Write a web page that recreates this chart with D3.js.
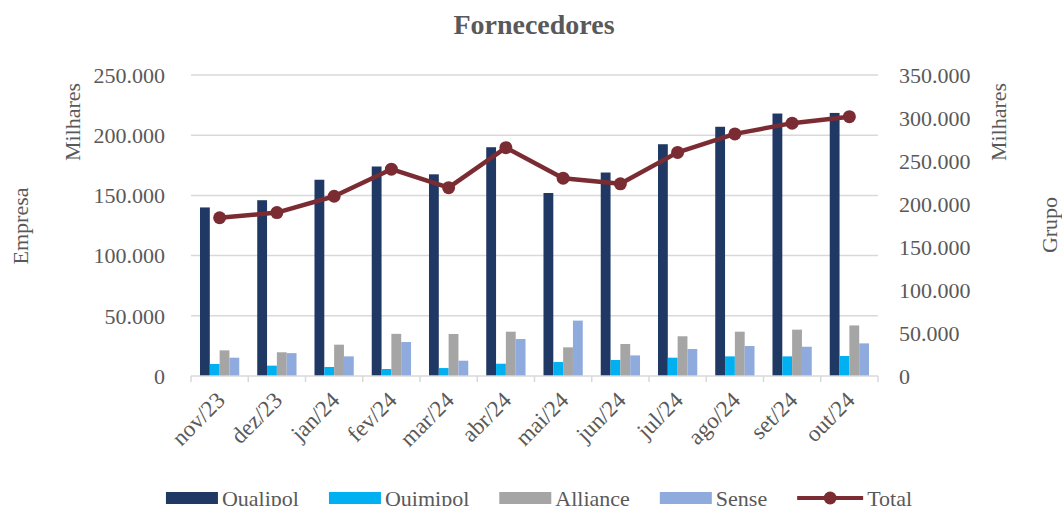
<!DOCTYPE html>
<html>
<head>
<meta charset="utf-8">
<script src="https://cdn.jsdelivr.net/npm/d3@7"></script>
<style>
    body { margin: 0; background: #fff; }
    svg text { font-family: "Liberation Serif", "DejaVu Serif", serif; fill: #595959; }
</style>
</head>
<body>
<svg id="chart" width="1062" height="506"></svg>
<script>
// Fornecedores - empresa (barras, eixo esquerdo) e grupo (linha, eixo direito)
const months = ["nov/23", "dez/23", "jan/24", "fev/24", "mar/24", "abr/24",
                "mai/24", "jun/24", "jul/24", "ago/24", "set/24", "out/24"];

const qualipol = [140000, 146000, 163000, 174000, 167500, 190000, 152000, 169000, 192500, 207000, 218000, 218500];
const quimipol = [10000, 8600, 7500, 5800, 6600, 10200, 11600, 13300, 15200, 16300, 16300, 16600];
const alliance = [21300, 19700, 26000, 35000, 34900, 36800, 23800, 26600, 33000, 36800, 38500, 42000];
const sense    = [15200, 19000, 16300, 28200, 12700, 30700, 46000, 17100, 22400, 24900, 24300, 27100];
const total    = [184000, 190000, 209000, 240500, 219000, 265500, 230000, 223500, 260000, 281500, 294000, 301500];

const leftTicks = [0, 50000, 100000, 150000, 200000, 250000];
const rightTicks = [0, 50000, 100000, 150000, 200000, 250000, 300000, 350000];

const barSeries = [
    { name: "Qualipol", values: qualipol, color: "#1F3864" },
    { name: "Quimipol", values: quimipol, color: "#00B0F0" },
    { name: "Alliance", values: alliance, color: "#A5A5A5" },
    { name: "Sense",    values: sense,    color: "#8FAADC" }
];
const lineColor = "#7B2C33";

const ptBR = d3.formatLocale({ decimal: ",", thousands: ".", grouping: [3], currency: ["", ""] });
const fmt = ptBR.format(",.0f");

const svg = d3.select("#chart");
const plot = { left: 191, right: 878, top: 75, bottom: 376 };

const x0 = d3.scaleBand().domain(months).range([plot.left, plot.right]).padding(0);
const groupW = x0.bandwidth() * 0.686;
const x1 = d3.scaleBand().domain(barSeries.map(s => s.name)).range([-groupW / 2, groupW / 2]).padding(0);
const yL = d3.scaleLinear().domain([0, 250000]).range([plot.bottom, plot.top]);
const yR = d3.scaleLinear().domain([0, 350000]).range([plot.bottom, plot.top]);

// Title
svg.append("text")
    .attr("x", 534).attr("y", 34)
    .attr("text-anchor", "middle")
    .attr("font-size", 28).attr("font-weight", "bold")
    .text("Fornecedores");

// Gridlines
svg.append("g").selectAll("line")
    .data(leftTicks.slice(1))
    .enter().append("line")
    .attr("x1", plot.left).attr("x2", plot.right)
    .attr("y1", d => yL(d)).attr("y2", d => yL(d))
    .attr("stroke", "#d9d9d9").attr("stroke-width", 1.5);

// Left axis labels
svg.append("g").selectAll("text")
    .data(leftTicks)
    .enter().append("text")
    .attr("x", 165).attr("y", d => yL(d))
    .attr("dy", "0.35em")
    .attr("text-anchor", "end")
    .attr("font-size", 22)
    .text(d => fmt(d));

// Right axis labels
svg.append("g").selectAll("text")
    .data(rightTicks)
    .enter().append("text")
    .attr("x", 899).attr("y", d => yR(d))
    .attr("dy", "0.35em")
    .attr("text-anchor", "start")
    .attr("font-size", 22)
    .text(d => fmt(d));

// Axis titles
function vTitle(x, y, label) {
    svg.append("text")
        .attr("transform", `translate(${x},${y}) rotate(-90)`)
        .attr("text-anchor", "middle")
        .attr("dy", "0.35em")
        .attr("font-size", 22)
        .text(label);
}
vTitle(72, 122, "Milhares");
vTitle(20, 226, "Empresa");
vTitle(998, 122, "Milhares");
vTitle(1049, 225, "Grupo");

// Bars
const groups = svg.append("g").selectAll("g")
    .data(months)
    .enter().append("g")
    .attr("transform", d => `translate(${x0(d) + x0.bandwidth() / 2},0)`);

groups.selectAll("rect")
    .data((m, i) => barSeries.map(s => ({ name: s.name, color: s.color, value: s.values[i] })))
    .enter().append("rect")
    .attr("x", d => x1(d.name))
    .attr("width", x1.bandwidth())
    .attr("y", d => yL(d.value))
    .attr("height", d => yL(0) - yL(d.value))
    .attr("fill", d => d.color);

// X axis line + ticks
const xAxis = svg.append("g");
xAxis.append("line")
    .attr("x1", plot.left).attr("x2", plot.right)
    .attr("y1", plot.bottom).attr("y2", plot.bottom)
    .attr("stroke", "#d9d9d9").attr("stroke-width", 1.5);
xAxis.selectAll("line.tick")
    .data(months.concat([null]))
    .enter().append("line")
    .attr("class", "tick")
    .attr("x1", d => d ? x0(d) : plot.right)
    .attr("x2", d => d ? x0(d) : plot.right)
    .attr("y1", plot.bottom).attr("y2", plot.bottom + 6)
    .attr("stroke", "#d9d9d9").attr("stroke-width", 1.5);

// X labels (rotated)
xAxis.selectAll("text")
    .data(months)
    .enter().append("text")
    .attr("transform", d => `translate(${x0(d) + x0.bandwidth() / 2 + 1},${plot.bottom + 20}) rotate(-45)`)
    .attr("text-anchor", "end")
    .attr("dy", "0.35em")
    .attr("font-size", 23)
    .text(d => d);

// Total line
const line = d3.line()
    .x((d, i) => x0(months[i]) + x0.bandwidth() / 2)
    .y(d => yR(d));

svg.append("path")
    .datum(total)
    .attr("d", line)
    .attr("fill", "none")
    .attr("stroke", lineColor)
    .attr("stroke-width", 4.5)
    .attr("stroke-linejoin", "round");

svg.append("g").selectAll("circle")
    .data(total)
    .enter().append("circle")
    .attr("cx", (d, i) => x0(months[i]) + x0.bandwidth() / 2)
    .attr("cy", d => yR(d))
    .attr("r", 6.5)
    .attr("fill", lineColor);

// Legend
const legendItems = barSeries.map(s => ({ name: s.name, color: s.color, type: "bar" }))
    .concat([{ name: "Total", color: lineColor, type: "line" }]);
const legend = svg.append("g");
let lx = 0;
const swW = 52, ly = 498;
legendItems.forEach(item => {
    const g = legend.append("g").attr("transform", `translate(${lx},0)`);
    if (item.type === "bar") {
        g.append("rect").attr("x", 0).attr("y", ly - 6).attr("width", swW).attr("height", 12).attr("fill", item.color);
    } else {
        g.append("line").attr("x1", 0).attr("x2", swW + 14).attr("y1", ly).attr("y2", ly)
            .attr("stroke", item.color).attr("stroke-width", 4);
        g.append("circle").attr("cx", (swW + 14) / 2).attr("cy", ly).attr("r", 6.5).attr("fill", item.color);
    }
    const sw = item.type === "bar" ? swW : swW + 14;
    const t = g.append("text").attr("x", sw + 4).attr("y", ly).attr("dy", "0.35em")
        .attr("font-size", 22).text(item.name);
    lx += sw + 4 + t.node().getComputedTextLength() + 30;
});
const legendW = lx - 30;
legend.attr("transform", `translate(${539 - legendW / 2},0)`);
</script>
</body>
</html>
